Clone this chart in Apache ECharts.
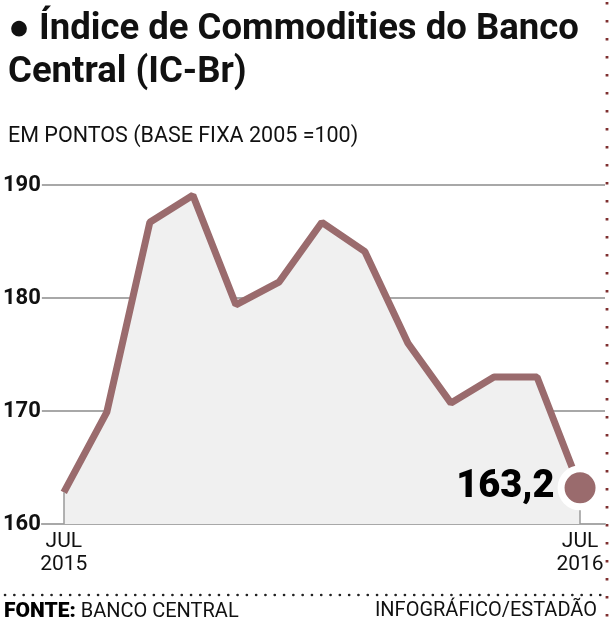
<!DOCTYPE html>
<html>
<head>
<meta charset="utf-8">
<script src="https://cdn.jsdelivr.net/npm/echarts@6/dist/echarts.min.js"></script>
<style>
  html, body { margin: 0; padding: 0; background: #fff; }
  #chart { width: 610px; height: 622px; }
</style>
</head>
<body>
<div id="chart"></div>
<script>
// IC-Br, jul/2015 .. jul/2016, em pontos
var meses = ['JUL\n2015', 'AGO', 'SET', 'OUT', 'NOV', 'DEZ', 'JAN', 'FEV', 'MAR', 'ABR', 'MAI', 'JUN', 'JUL\n2016'];
var valores = [162.8, 169.9, 186.7, 189.1, 179.4, 181.4, 186.7, 184.1, 176.0, 170.7, 173.0, 173.0, 163.2];
var yTicks = [160, 170, 180, 190];

var corLinha = '#9a6b6d';
var fonte = 'Roboto, "Noto Sans", sans-serif';
var ultimo = valores.length - 1;

var myChart = echarts.init(document.getElementById('chart'));

myChart.setOption({
  animation: false,
  title: [
    {
      text: '● Índice de Commodities do Banco\nCentral (IC-Br)',
      left: 3,
      top: 3,
      textStyle: { fontFamily: fonte, fontSize: 36.5, fontWeight: 'bold', color: '#111', lineHeight: 43 }
    },
    {
      text: 'EM PONTOS (BASE FIXA 2005 =100)',
      left: 3,
      top: 121,
      textStyle: { fontFamily: fonte, fontSize: 21.5, fontWeight: 'normal', color: '#111' }
    }
  ],
  grid: { left: 40, right: 5, top: 185, bottom: 98 },
  xAxis: {
    type: 'value',
    min: -0.51,
    max: 12.58,
    splitLine: { show: false },
    axisLine: { show: true, lineStyle: { color: '#a8a8a8', width: 2 } },
    axisTick: { show: false },
    axisLabel: {
      customValues: [0, ultimo],
      formatter: function (v) { return meses[Math.round(v)]; },
      fontFamily: fonte,
      fontSize: 21,
      color: '#111',
      lineHeight: 23,
      margin: 6
    }
  },
  yAxis: {
    type: 'value',
    min: yTicks[0],
    max: yTicks[yTicks.length - 1],
    interval: 10,
    axisLine: { show: false },
    axisTick: { show: false },
    splitLine: { lineStyle: { color: '#a8a8a8', width: 2 } },
    axisLabel: { fontFamily: fonte, fontSize: 22, fontWeight: 'bold', color: '#111', margin: 1 }
  },
  series: [
    {
      type: 'line',
      data: valores.map(function (v, i) { return [i, v]; }),
      symbol: 'none',
      z: 2,
      lineStyle: { color: corLinha, width: 7 },
      areaStyle: { color: '#f0f0f0', opacity: 1 },
      markLine: {
        silent: true,
        symbol: 'none',
        label: { show: false },
        lineStyle: { color: '#9a9a9a', width: 1.5, type: 'solid' },
        data: [
          [{ coord: [0, yTicks[0]] }, { coord: [0, valores[0]] }],
          [{ coord: [ultimo, yTicks[0]] }, { coord: [ultimo, valores[ultimo]] }]
        ]
      }
    },
    {
      type: 'scatter',
      z: 5,
      data: [[ultimo, valores[ultimo]]],
      symbolSize: 38,
      itemStyle: { color: corLinha, borderColor: '#fff', borderWidth: 7, opacity: 1 },
      label: {
        show: true,
        position: 'left',
        distance: 3,
        formatter: function (p) { return p.value[1].toFixed(1).replace('.', ','); },
        fontFamily: fonte,
        fontSize: 38,
        fontWeight: 900,
        color: '#000'
      }
    }
  ],
  graphic: [
    {
      type: 'line',
      shape: { x1: 607, y1: 2, x2: 607, y2: 622 },
      style: { stroke: '#7e2f2f', lineWidth: 2.8, lineDash: [2.5, 15.5] },
      silent: true
    },
    {
      type: 'line',
      shape: { x1: 5, y1: 595, x2: 604, y2: 595 },
      style: { stroke: '#222', lineWidth: 2.6, lineCap: 'round', lineDash: [0.1, 9.2] },
      silent: true
    },
    {
      type: 'text',
      left: 4,
      top: 601,
      style: {
        text: '{b|FONTE:} BANCO CENTRAL',
        fontFamily: fonte,
        fontSize: 20,
        fill: '#111',
        rich: { b: { fontFamily: fonte, fontSize: 21, fontWeight: 900, fill: '#000' } }
      }
    },
    {
      type: 'text',
      right: 13,
      top: 601,
      style: { text: 'INFOGRÁFICO/ESTADÃO', fontFamily: fonte, fontSize: 20, fill: '#111' }
    }
  ]
});

window.addEventListener('resize', function () {
  myChart.resize();
});
</script>
</body>
</html>
